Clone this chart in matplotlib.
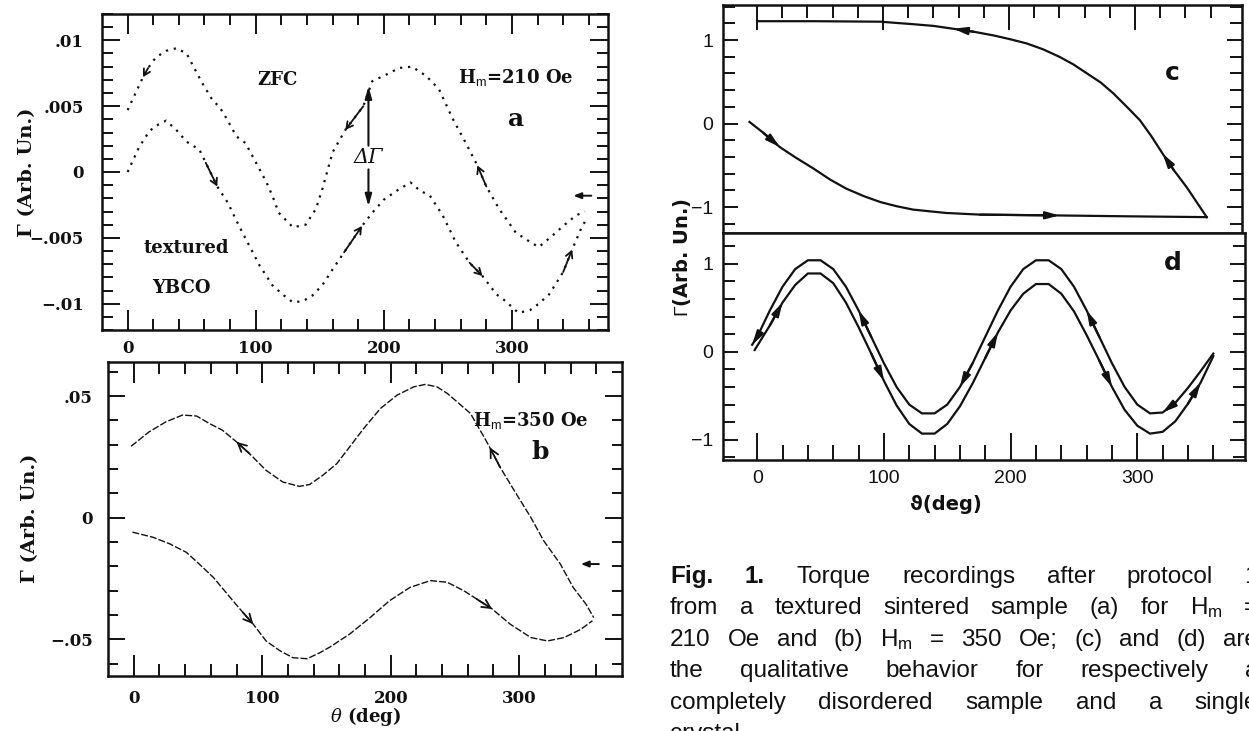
import numpy as np
import matplotlib
matplotlib.use('Agg')
import matplotlib.pyplot as plt
from matplotlib.ticker import MultipleLocator, FixedLocator

plt.rcParams['mathtext.fontset'] = 'custom'
plt.rcParams['mathtext.rm'] = 'Liberation Sans'
plt.rcParams['mathtext.it'] = 'DejaVu Serif:italic'

# ---- data ----
# (a) H_m = 210 Oe, forward (lower) and backward (upper) branches
a_fwd_theta = [0, 9, 17, 22, 30, 38, 46, 56, 61, 70, 78, 87, 95, 103, 113, 121, 129, 137, 144, 152,
               160, 169, 183, 191, 200, 212, 221, 228, 236, 246, 256, 267, 277, 288, 295, 305, 314,
               321, 329, 340, 347, 354, 358]
a_fwd_gamma = [0.0000, 0.0019, 0.0031, 0.0035, 0.0039, 0.0032, 0.0023, 0.0017, 0.0007, -0.0011,
               -0.0023, -0.0041, -0.0056, -0.0071, -0.0086, -0.0093, -0.0099, -0.0098, -0.0094,
               -0.0086, -0.0074, -0.0061, -0.0041, -0.0031, -0.0021, -0.0013, -0.0008, -0.0014,
               -0.0018, -0.0033, -0.0053, -0.0069, -0.0079, -0.0093, -0.0098, -0.0107, -0.0105,
               -0.0100, -0.0093, -0.0076, -0.0059, -0.0043, -0.0036]
a_rev_theta = [0, 12, 16, 22, 30, 38, 46, 58, 66, 72, 77, 85, 92, 103, 108, 113, 118, 129, 139, 147,
               152, 160, 170, 184, 191, 202, 212, 222, 233, 243, 254, 264, 273, 280, 290, 303, 314,
               321, 332, 340, 350, 357]
a_rev_gamma = [0.0047, 0.0072, 0.0079, 0.0087, 0.0092, 0.0094, 0.0090, 0.0068, 0.0055, 0.0049,
               0.0041, 0.0027, 0.0022, 0.0002, -0.0007, -0.0018, -0.0031, -0.0042, -0.0040, -0.0028,
               -0.0013, 0.0015, 0.0032, 0.0050, 0.0069, 0.0074, 0.0079, 0.0080, 0.0073, 0.0063,
               0.0040, 0.0022, 0.0005, -0.0011, -0.0028, -0.0046, -0.0053, -0.0057, -0.0048,
               -0.0041, -0.0033, -0.0030]
a_fwd_arrows = [70, 183, 277, 347]
a_rev_arrows = [12, 170, 273]

# (b) H_m = 350 Oe
b_fwd_theta = [-1, 15, 28, 41, 51, 62, 75, 85, 93, 103, 114, 124, 135, 145, 153, 168, 184, 199, 215,
               231, 244, 257, 267, 279, 293, 309, 322, 335, 348, 357]
b_fwd_gamma = [-0.0059, -0.0080, -0.0107, -0.0142, -0.0190, -0.0245, -0.0327, -0.0389, -0.0437,
               -0.0506, -0.0547, -0.0575, -0.0579, -0.0554, -0.0530, -0.0478, -0.0410, -0.0341,
               -0.0286, -0.0258, -0.0265, -0.0300, -0.0334, -0.0375, -0.0437, -0.0492, -0.0506,
               -0.0492, -0.0458, -0.0423]
b_rev_theta = [-2, 12, 25, 38, 49, 59, 69, 80, 90, 103, 116, 129, 137, 147, 158, 166, 179, 192, 205,
               218, 227, 236, 244, 250, 262, 274, 277, 285, 296, 309, 319, 332, 342, 352, 358]
b_rev_gamma = [0.0294, 0.0353, 0.0394, 0.0422, 0.0418, 0.0387, 0.0360, 0.0312, 0.0264, 0.0195,
               0.0147, 0.0129, 0.0137, 0.0174, 0.0222, 0.0277, 0.0367, 0.0449, 0.0504, 0.0538,
               0.0548, 0.0538, 0.0511, 0.0484, 0.0429, 0.0319, 0.0290, 0.0209, 0.0113, 0.0002,
               -0.0094, -0.0190, -0.0286, -0.0355, -0.0410]
b_fwd_arrows = [93, 279]
b_rev_arrows = [80, 277]

# (c) disordered sample, qualitative
c_fwd_theta = [-6, 5, 18, 30, 45, 58, 71, 85, 98, 111, 124, 150, 177, 240, 293, 357]
c_fwd_gamma = [0.02, -0.11, -0.28, -0.40, -0.54, -0.67, -0.78, -0.87, -0.94, -0.99, -1.03, -1.07,
               -1.09, -1.10, -1.11, -1.12]
c_rev_theta = [0, 45, 98, 124, 140, 156, 172, 188, 201, 214, 227, 240, 251, 262, 273, 283, 293,
               304, 313, 322, 331, 341, 349, 357]
c_rev_gamma = [1.226, 1.226, 1.22, 1.19, 1.17, 1.135, 1.10, 1.055, 1.01, 0.96, 0.89, 0.80, 0.71,
               0.60, 0.49, 0.36, 0.21, 0.04, -0.15, -0.36, -0.56, -0.76, -0.94, -1.12]
c_fwd_arrows = [18, 240]
c_rev_arrows = [156, 322]

# (d) single crystal, qualitative
d_fwd_theta = [-2, 10, 20, 30, 40, 50, 60, 70, 80, 90, 100, 110, 120, 130, 140, 150, 160, 170, 180,
               190, 200, 210, 220, 230, 240, 250, 260, 270, 280, 290, 300, 310, 320, 330, 340, 350,
               360]
d_fwd_gamma = [0.02, 0.30, 0.56, 0.76, 0.89, 0.89, 0.78, 0.56, 0.28, -0.02, -0.33, -0.61, -0.82,
               -0.93, -0.93, -0.82, -0.62, -0.36, -0.07, 0.22, 0.47, 0.66, 0.77, 0.77, 0.66, 0.46,
               0.19, -0.10, -0.40, -0.66, -0.84, -0.93, -0.91, -0.79, -0.59, -0.35, -0.05]
d_rev_theta = [-4, 0, 10, 20, 30, 40, 50, 60, 70, 80, 90, 100, 110, 120, 130, 140, 150, 160, 170,
               180, 190, 200, 210, 220, 230, 240, 250, 260, 270, 280, 290, 300, 310, 320, 330, 340,
               350, 360]
d_rev_gamma = [0.08, 0.17, 0.47, 0.74, 0.94, 1.04, 1.04, 0.94, 0.74, 0.47, 0.17, -0.13, -0.40,
               -0.60, -0.70, -0.70, -0.60, -0.40, -0.13, 0.17, 0.47, 0.74, 0.94, 1.04, 1.04, 0.94,
               0.74, 0.47, 0.17, -0.13, -0.40, -0.60, -0.70, -0.69, -0.58, -0.41, -0.22, -0.02]
d_fwd_arrows = [20, 100, 190, 280, 350]
d_rev_arrows = [-4, 80, 160, 260, 320]

theta_ticks = [0, 100, 200, 300]
theta_minor = [20, 40, 60, 80, 120, 140, 160, 180, 220, 240, 260, 280, 320, 340, 360]
theta_labels = ['0', '100', '200', '300']
a_yticks = [-0.01, -0.005, 0, 0.005, 0.01]
a_ylabels = ['\u2212.01', '\u2212.005', '0', '.005', '.01']
b_yticks = [-0.05, 0, 0.05]
b_ylabels = ['\u2212.05', '0', '.05']
cd_yticks = [-1, 0, 1]
cd_ylabels = ['\u22121', '0', '1']

caption = ["Fig. 1. Torque recordings after protocol 1",
           r"from a textured sintered sample (a) for H$_\mathrm{m}$ =",
           r"210 Oe and (b) H$_\mathrm{m}$ = 350 Oe; (c) and (d) are",
           "the qualitative behavior for respectively a",
           "completely disordered sample and a single",
           "crystal."]

ink = '#111111'
W, H = 1249, 731
fig = plt.figure(figsize=(W / 100, H / 100), dpi=100)


def box(l, t, r, b):
    return [l / W, 1 - b / H, (r - l) / W, (b - t) / H]


def arrows(ax, th, g, at, reverse, **kw):
    th = np.asarray(th)
    for t in at:
        i = int(np.argmin(np.abs(th - t)))
        j = i + 1 if reverse else i - 1
        ax.annotate('', xy=(th[i], g[i]), xytext=(th[j], g[j]),
                    arrowprops=dict(shrinkA=0, shrinkB=0, color=ink, **kw))


ax_a = fig.add_axes(box(102, 14, 608, 330))
ax_b = fig.add_axes(box(108, 362, 622, 676))
ax_c = fig.add_axes(box(723, 5, 1242, 233))
ax_d = fig.add_axes(box(723, 233, 1245, 460))

for ax in (ax_a, ax_b, ax_c, ax_d):
    for s in ax.spines.values():
        s.set_linewidth(1.8)
        s.set_color(ink)
    ax.tick_params(which='both', direction='in', top=True, right=True, width=1.4, color=ink,
                   labelcolor=ink)
    ax.set_xticks(theta_ticks, labels=theta_labels)
    ax.xaxis.set_minor_locator(FixedLocator(theta_minor))

# ---- panel a ----
dots = dict(color=ink, lw=1.6, ls=(0, (1, 2.6)))
ax_a.plot(a_fwd_theta, a_fwd_gamma, **dots)
ax_a.plot(a_rev_theta, a_rev_gamma, **dots)
small = dict(arrowstyle='->,head_length=0.45,head_width=0.25', lw=1.3)
arrows(ax_a, a_fwd_theta, a_fwd_gamma, a_fwd_arrows, False, **small)
arrows(ax_a, a_rev_theta, a_rev_gamma, a_rev_arrows, True, **small)
ax_a.set_xlim(-20, 375)
ax_a.set_ylim(-0.012, 0.012)
ax_a.set_yticks(a_yticks, labels=a_ylabels)
ax_a.yaxis.set_minor_locator(MultipleLocator(0.001))
ax_a.tick_params(axis='x', which='major', length=14.5, pad=7)
ax_a.tick_params(axis='x', which='minor', length=8)
ax_a.tick_params(axis='y', which='major', length=13, pad=13)
ax_a.tick_params(axis='y', which='minor', length=8)

serif_b = dict(fontfamily='DejaVu Serif', fontweight='bold', color=ink)
ax_a.text(117, 0.0070, 'ZFC', ha='center', va='center', fontsize=13, **serif_b)
ax_a.text(303, 0.0072, r'H$_\mathrm{m}$=210 Oe', ha='center', va='center', fontsize=13, **serif_b)
ax_a.text(303, 0.0040, 'a', ha='center', va='center', fontsize=18, **serif_b)
ax_a.text(46, -0.0058, 'textured', ha='center', va='center', fontsize=13, **serif_b)
ax_a.text(42, -0.0088, 'YBCO', ha='center', va='center', fontsize=13, **serif_b)
ax_a.text(188, 0.0011, '\u0394\u0393', ha='center', va='center', fontsize=15,
          fontfamily='DejaVu Serif', style='italic', color=ink)
big = dict(arrowstyle='-|>,head_length=0.7,head_width=0.2', lw=1.5, color=ink, shrinkA=0, shrinkB=0)
tiny = dict(arrowstyle='-|>,head_length=0.45,head_width=0.18', lw=1.4, color=ink, shrinkA=0,
            shrinkB=0)
ax_a.annotate('', xy=(188, 0.0065), xytext=(188, 0.0020), arrowprops=big)
ax_a.annotate('', xy=(188, -0.0026), xytext=(188, 0.0002), arrowprops=big)
ax_a.annotate('', xy=(348, -0.0018), xytext=(362, -0.0018), arrowprops=tiny)

# ---- panel b ----
dash = dict(color=ink, lw=1.0, ls=(0, (5, 1.5)))
ax_b.plot(b_fwd_theta, b_fwd_gamma, **dash)
ax_b.plot(b_rev_theta, b_rev_gamma, **dash)
med = dict(arrowstyle='->,head_length=0.6,head_width=0.3', lw=1.3)
arrows(ax_b, b_fwd_theta, b_fwd_gamma, b_fwd_arrows, False, **med)
arrows(ax_b, b_rev_theta, b_rev_gamma, b_rev_arrows, True, **med)
ax_b.set_xlim(-20, 380)
ax_b.set_ylim(-0.065, 0.064)
ax_b.set_yticks(b_yticks, labels=b_ylabels)
ax_b.yaxis.set_minor_locator(MultipleLocator(0.01))
ax_b.tick_params(axis='x', which='major', length=15, pad=10)
ax_b.tick_params(axis='x', which='minor', length=8.5)
ax_b.tick_params(axis='y', which='major', length=12.5, pad=11)
ax_b.tick_params(axis='y', which='minor', length=7)
ax_b.text(309, 0.0401, r'H$_\mathrm{m}$=350 Oe', ha='center', va='center', fontsize=13, **serif_b)
ax_b.text(316, 0.027, 'b', ha='center', va='center', fontsize=18, **serif_b)
ax_b.annotate('', xy=(348, -0.019), xytext=(362, -0.019), arrowprops=tiny)

for ax in (ax_a, ax_b):
    plt.setp(ax.get_xticklabels() + ax.get_yticklabels(), fontfamily='DejaVu Serif',
             fontweight='bold', fontsize=12)

# ---- panels c and d ----
solid = dict(color=ink, lw=1.6)
filled = dict(arrowstyle='-|>,head_length=0.8,head_width=0.22', lw=1.6)
ax_c.plot(c_fwd_theta, c_fwd_gamma, **solid)
ax_c.plot(c_rev_theta, c_rev_gamma, **solid)
arrows(ax_c, c_fwd_theta, c_fwd_gamma, c_fwd_arrows, False, **filled)
arrows(ax_c, c_rev_theta, c_rev_gamma, c_rev_arrows, True, **filled)
ax_d.plot(d_fwd_theta, d_fwd_gamma, **solid)
ax_d.plot(d_rev_theta, d_rev_gamma, **solid)
arrows(ax_d, d_fwd_theta, d_fwd_gamma, d_fwd_arrows, False, **filled)
arrows(ax_d, d_rev_theta, d_rev_gamma, d_rev_arrows, True, **filled)

ax_c.set_ylim(-1.31, 1.42)
ax_d.set_ylim(-1.23, 1.35)
for ax in (ax_c, ax_d):
    ax.set_xlim(-27, 385)
    ax.set_yticks(cd_yticks, labels=cd_ylabels)
    ax.yaxis.set_minor_locator(MultipleLocator(0.2))
    ax.tick_params(axis='y', which='major', length=11, pad=7)
    ax.tick_params(axis='y', which='minor', length=8.5)
ax_c.tick_params(axis='x', which='both', bottom=False, labelbottom=False)
ax_c.tick_params(axis='x', which='major', length=18)
ax_c.tick_params(axis='x', which='minor', length=9.5)
ax_d.tick_params(axis='x', which='both', top=False)
ax_d.tick_params(axis='x', which='major', length=19.5, pad=7)
ax_d.tick_params(axis='x', which='minor', length=11)
for ax in (ax_c, ax_d):
    plt.setp(ax.get_xticklabels() + ax.get_yticklabels(), fontfamily='Liberation Sans',
             fontsize=14)
sans_b = dict(fontfamily='DejaVu Sans', fontweight='bold', color=ink)
ax_c.text(330, 0.60, 'c', ha='center', va='center', fontsize=18, **sans_b)
ax_d.text(328, 1.01, 'd', ha='center', va='center', fontsize=18, **sans_b)

# axis labels
fig.text(27 / W, 1 - 172 / H, '\u0393 (Arb. Un.)', rotation=90, ha='center', va='center',
         fontsize=14, **serif_b)
fig.text(30 / W, 1 - 518 / H, '\u0393 (Arb. Un.)', rotation=90, ha='center', va='center',
         fontsize=14, **serif_b)
fig.text(365 / W, 1 - 717 / H, r'$\it{\theta}$ (deg)', ha='center', va='center', fontsize=13,
         **serif_b)
fig.text(682 / W, 1 - 258 / H, r'$\it{\Gamma}$(Arb. Un.)', rotation=90, ha='center',
         va='center', fontsize=14, **sans_b)
fig.text(946 / W, 1 - 505 / H, '\u03d1(deg)', ha='center', va='center', fontsize=14, **sans_b)

# justified caption
fig.canvas.draw()
r = fig.canvas.get_renderer()
left, right = 670, 1258
for k, line in enumerate(caption):
    words = line.split(' ')
    ts = [fig.text(0, 1 - (583 + 31.4 * k) / H, w, fontsize=17.5, fontfamily='Liberation Sans',
                   fontweight='bold' if (k == 0 and i < 2) else 'normal', color=ink,
                   va='baseline') for i, w in enumerate(words)]
    widths = [t.get_window_extent(r).width for t in ts]
    if k < len(caption) - 1:
        gap = (right - left - sum(widths)) / (len(ts) - 1)
    else:
        gap = 6
    x = left
    for t, w in zip(ts, widths):
        t.set_x(x / W)
        x += w + gap

fig.savefig('out.png', dpi=100)
